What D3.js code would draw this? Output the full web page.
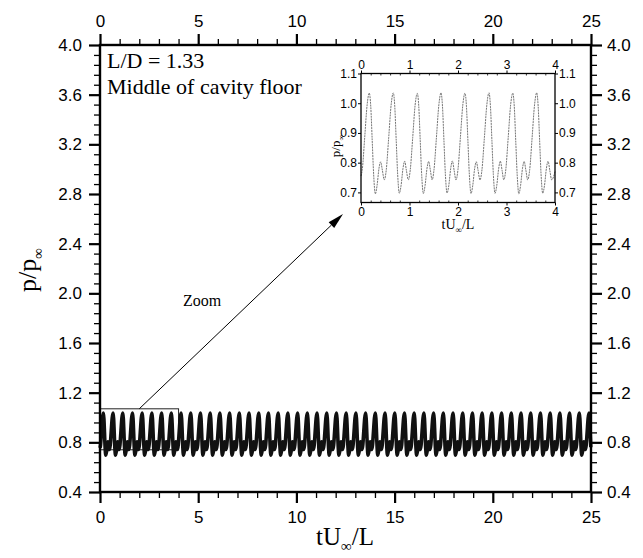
<!DOCTYPE html>
<html><head><meta charset="utf-8">
<script src="https://cdn.jsdelivr.net/npm/d3@7"></script>
<style>body{margin:0;background:#fff}</style>
</head><body><svg id="c" width="643" height="558"></svg>
<script>
// ---------- data ----------
const xTicks = [0, 5, 10, 15, 20, 25];
const yTicks = [0.4, 0.8, 1.2, 1.6, 2.0, 2.4, 2.8, 3.2, 3.6, 4.0];
const insetXTicks = [0, 1, 2, 3, 4];
const insetYTicks = [0.7, 0.8, 0.9, 1.0, 1.1];

// inset series (first 4 time units)
const insetT = [0.000,
 0.026,0.076,0.126,0.171,0.201,0.231,0.261,0.295,0.331,0.371,0.405,0.441,0.480,
 0.521,0.571,0.621,0.666,0.696,0.726,0.756,0.790,0.826,0.866,0.900,0.936,0.975,
 1.016,1.066,1.116,1.161,1.191,1.221,1.251,1.285,1.321,1.361,1.395,1.431,1.466,
 1.505,1.555,1.605,1.650,1.680,1.710,1.740,1.774,1.810,1.850,1.884,1.920,1.958,
 1.999,2.049,2.099,2.144,2.174,2.204,2.234,2.268,2.304,2.344,2.378,2.414,2.453,
 2.494,2.544,2.594,2.639,2.669,2.699,2.729,2.763,2.799,2.839,2.873,2.909,2.944,
 2.985,3.035,3.085,3.130,3.160,3.190,3.220,3.254,3.290,3.330,3.364,3.400,3.437,
 3.478,3.528,3.578,3.623,3.653,3.683,3.713,3.747,3.783,3.823,3.857,3.893,3.932,
 4.000];
const insetP = [0.755,
 0.776,0.884,0.994,1.034,0.990,0.875,0.760,0.695,0.723,0.781,0.803,0.774,0.742,
 0.776,0.884,0.994,1.035,0.990,0.875,0.760,0.697,0.723,0.781,0.805,0.774,0.742,
 0.776,0.884,0.994,1.033,0.990,0.875,0.760,0.696,0.723,0.781,0.804,0.774,0.742,
 0.776,0.884,0.994,1.035,0.990,0.875,0.760,0.698,0.723,0.781,0.806,0.774,0.742,
 0.776,0.884,0.994,1.034,0.990,0.875,0.760,0.696,0.723,0.781,0.803,0.774,0.742,
 0.776,0.884,0.994,1.035,0.990,0.875,0.760,0.697,0.723,0.781,0.805,0.774,0.742,
 0.776,0.884,0.994,1.034,0.990,0.875,0.760,0.695,0.723,0.781,0.804,0.774,0.742,
 0.776,0.884,0.994,1.035,0.990,0.875,0.760,0.697,0.723,0.781,0.805,0.774,0.742,
 0.770];

// one period of the signal (offset from its peak)
const shapeDt = [-0.186,-0.145,-0.095,-0.045,0,0.030,0.060,0.090,0.124,0.160,0.200,0.234,0.270];
const shapeP  = [0.742,0.776,0.884,0.994,1.035,0.990,0.875,0.760,0.697,0.723,0.781,0.805,0.774];
// peak times of the full record
const mainPeakT = [0.170,0.665,1.159,1.654,2.148,2.643,3.138,3.632,4.127,4.621,
 5.116,5.611,6.105,6.600,7.094,7.589,8.084,8.578,9.073,9.567,
 10.062,10.557,11.051,11.546,12.040,12.535,13.030,13.524,14.019,14.513,
 15.008,15.503,15.997,16.492,16.986,17.481,17.976,18.470,18.965,19.459,
 19.954,20.449,20.943,21.438,21.932,22.427,22.922,23.416,23.911,24.405,24.900];
const zoomBoxT = [0, 4];
const zoomBoxP = [0.74, 1.07];

// ---------- drawing ----------
const svg = d3.select('#c');
const sans = 'Liberation Sans, Arial, Helvetica, sans-serif';
const serif = 'Liberation Serif, Times New Roman, serif';

const x = d3.scaleLinear([0, 25], [100, 591]);
const y = d3.scaleLinear([0.4, 4.0], [492, 45]);

const xMinor = d3.range(0, 26).filter(v => v % 5 !== 0);
const yMinor = d3.range(0, 46).filter(i => i % 5 !== 0).map(i => 0.4 + i * 0.08);

function styleAxis(g, w, fs) {
  g.select('.domain').remove();
  g.selectAll('.tick line').attr('stroke', '#000').attr('stroke-width', w);
  g.selectAll('.tick text').attr('fill', '#000').attr('font-family', sans).attr('font-size', fs);
}
const fmt1 = d3.format('.1f');

// minor ticks
svg.append('g').attr('transform', 'translate(0,492)')
  .call(d3.axisBottom(x).tickValues(xMinor).tickSize(6).tickFormat(''))
  .call(g => styleAxis(g, 1.3, 0));
svg.append('g').attr('transform', 'translate(0,45)')
  .call(d3.axisTop(x).tickValues(xMinor).tickSize(6).tickFormat(''))
  .call(g => styleAxis(g, 1.3, 0));
svg.append('g').attr('transform', 'translate(100,0)')
  .call(d3.axisLeft(y).tickValues(yMinor).tickSize(6).tickFormat(''))
  .call(g => styleAxis(g, 1.3, 0));
svg.append('g').attr('transform', 'translate(591,0)')
  .call(d3.axisRight(y).tickValues(yMinor).tickSize(6).tickFormat(''))
  .call(g => styleAxis(g, 1.3, 0));

// major ticks
svg.append('g').attr('transform', 'translate(0,492)')
  .call(d3.axisBottom(x).tickValues(xTicks).tickSize(11).tickPadding(8).tickFormat(d3.format('d')))
  .call(g => styleAxis(g, 2.2, 17));
svg.append('g').attr('transform', 'translate(0,45)')
  .call(d3.axisTop(x).tickValues(xTicks).tickSize(11).tickPadding(7).tickFormat(d3.format('d')))
  .call(g => styleAxis(g, 2.2, 17));
svg.append('g').attr('transform', 'translate(100,0)')
  .call(d3.axisLeft(y).tickValues(yTicks).tickSize(11).tickPadding(7).tickFormat(fmt1))
  .call(g => styleAxis(g, 2.2, 17));
svg.append('g').attr('transform', 'translate(591,0)')
  .call(d3.axisRight(y).tickValues(yTicks).tickSize(11).tickPadding(5).tickFormat(fmt1))
  .call(g => styleAxis(g, 2.2, 17));

// zoom box
svg.append('rect')
  .attr('x', x(zoomBoxT[0])).attr('y', y(zoomBoxP[1]))
  .attr('width', x(zoomBoxT[1]) - x(zoomBoxT[0]))
  .attr('height', y(zoomBoxP[0]) - y(zoomBoxP[1]))
  .attr('fill', 'none').attr('stroke', '#222').attr('stroke-width', 1);

// main series
const mainPts = [[0, insetP[0]]];
mainPeakT.forEach(pk => {
  shapeDt.forEach((dt, j) => {
    const t = pk + dt;
    if (t > 0 && t <= 25) mainPts.push([t, shapeP[j]]);
  });
});
mainPts.sort((a, b) => a[0] - b[0]);
svg.append('path').datum(mainPts)
  .attr('d', d3.line().x(d => x(d[0])).y(d => y(d[1])).curve(d3.curveMonotoneX))
  .attr('fill', 'none').attr('stroke', '#111').attr('stroke-width', 3.6);

// frame
svg.append('rect').attr('x', 100).attr('y', 45).attr('width', 491).attr('height', 447)
  .attr('fill', 'none').attr('stroke', '#000').attr('stroke-width', 2.4);

// annotations
svg.append('text').attr('x', 107).attr('y', 68).attr('font-family', serif).attr('font-size', 22)
  .text('L/D = 1.33');
svg.append('text').attr('x', 107).attr('y', 94).attr('font-family', serif).attr('font-size', 22)
  .text('Middle of cavity floor');
svg.append('text').attr('x', 183).attr('y', 306).attr('font-family', serif).attr('font-size', 16)
  .text('Zoom');

// axis titles
const xt = svg.append('text').attr('x', 345).attr('y', 545).attr('text-anchor', 'middle')
  .attr('font-family', serif).attr('font-size', 25);
xt.append('tspan').text('tU');
xt.append('tspan').attr('font-size', 15).attr('dy', 6).text('∞');
xt.append('tspan').attr('dy', -6).text('/L');

const yt = svg.append('text').attr('transform', 'translate(36,270) rotate(-90)')
  .attr('text-anchor', 'middle').attr('font-family', serif).attr('font-size', 26);
yt.append('tspan').text('p/p');
yt.append('tspan').attr('font-size', 15).attr('dy', 7).text('∞');

// ---------- inset ----------
const xi = d3.scaleLinear([0, 4], [361, 555]);
const yi = d3.scaleLinear([0.666, 1.1], [202.5, 73.5]);
const ins = svg.append('g');
ins.append('rect').attr('x', 361).attr('y', 73.5).attr('width', 194).attr('height', 129).attr('fill', '#fff');

const xiMinor = d3.range(0, 21).filter(i => i % 5 !== 0).map(i => i * 0.2);
[[d3.axisBottom, 202.5], [d3.axisTop, 73.5]].forEach(([ax, py]) => {
  ins.append('g').attr('transform', `translate(0,${py})`)
    .call(ax(xi).tickValues(xiMinor).tickSize(-2).tickFormat(''))
    .call(g => styleAxis(g, 0.8, 0));
  ins.append('g').attr('transform', `translate(0,${py})`)
    .call(ax(xi).tickValues(insetXTicks).tickSize(3).tickPadding(2).tickFormat(d3.format('d')))
    .call(g => styleAxis(g, 1, 12));
});
ins.append('g').attr('transform', 'translate(361,0)')
  .call(d3.axisLeft(yi).tickValues(insetYTicks).tickSize(3).tickPadding(1).tickFormat(fmt1))
  .call(g => styleAxis(g, 1, 12));
ins.append('g').attr('transform', 'translate(555,0)')
  .call(d3.axisRight(yi).tickValues(insetYTicks).tickSize(3).tickPadding(1).tickFormat(fmt1))
  .call(g => styleAxis(g, 1, 12));

ins.append('path').datum(insetT.map((t, i) => [t, insetP[i]]))
  .attr('d', d3.line().x(d => xi(d[0])).y(d => yi(d[1])).curve(d3.curveMonotoneX))
  .attr('fill', 'none').attr('stroke', '#666').attr('stroke-width', 0.9).attr('stroke-dasharray', '2,0.8');

ins.append('rect').attr('x', 361).attr('y', 73.5).attr('width', 194).attr('height', 129)
  .attr('fill', 'none').attr('stroke', '#000').attr('stroke-width', 1.3);

const ixt = ins.append('text').attr('x', 458).attr('y', 229).attr('text-anchor', 'middle')
  .attr('font-family', serif).attr('font-size', 14);
ixt.append('tspan').text('tU');
ixt.append('tspan').attr('font-size', 9).attr('dy', 4).text('∞');
ixt.append('tspan').attr('dy', -4).text('/L');
const iyt = ins.append('text').attr('transform', 'translate(340,146) rotate(-90)')
  .attr('text-anchor', 'middle').attr('font-family', serif).attr('font-size', 13);
iyt.append('tspan').text('p/p');
iyt.append('tspan').attr('font-size', 8).attr('dy', 4).text('∞');

// arrow from zoom box to inset
const a0 = [x(2), y(zoomBoxP[1])];
const a1 = [xi(0) - 18, yi(0.666) + 11.5];
const ang = Math.atan2(a1[1] - a0[1], a1[0] - a0[0]);
const L = 16, W = 4;
const base = [a1[0] - L * Math.cos(ang), a1[1] - L * Math.sin(ang)];
svg.append('line').attr('x1', a0[0]).attr('y1', a0[1]).attr('x2', base[0]).attr('y2', base[1])
  .attr('stroke', '#000').attr('stroke-width', 1);
svg.append('path')
  .attr('d', `M${a1[0]},${a1[1]}L${base[0] - W * Math.sin(ang)},${base[1] + W * Math.cos(ang)}L${base[0] + W * Math.sin(ang)},${base[1] - W * Math.cos(ang)}Z`)
  .attr('fill', '#000');
</script></body></html>
